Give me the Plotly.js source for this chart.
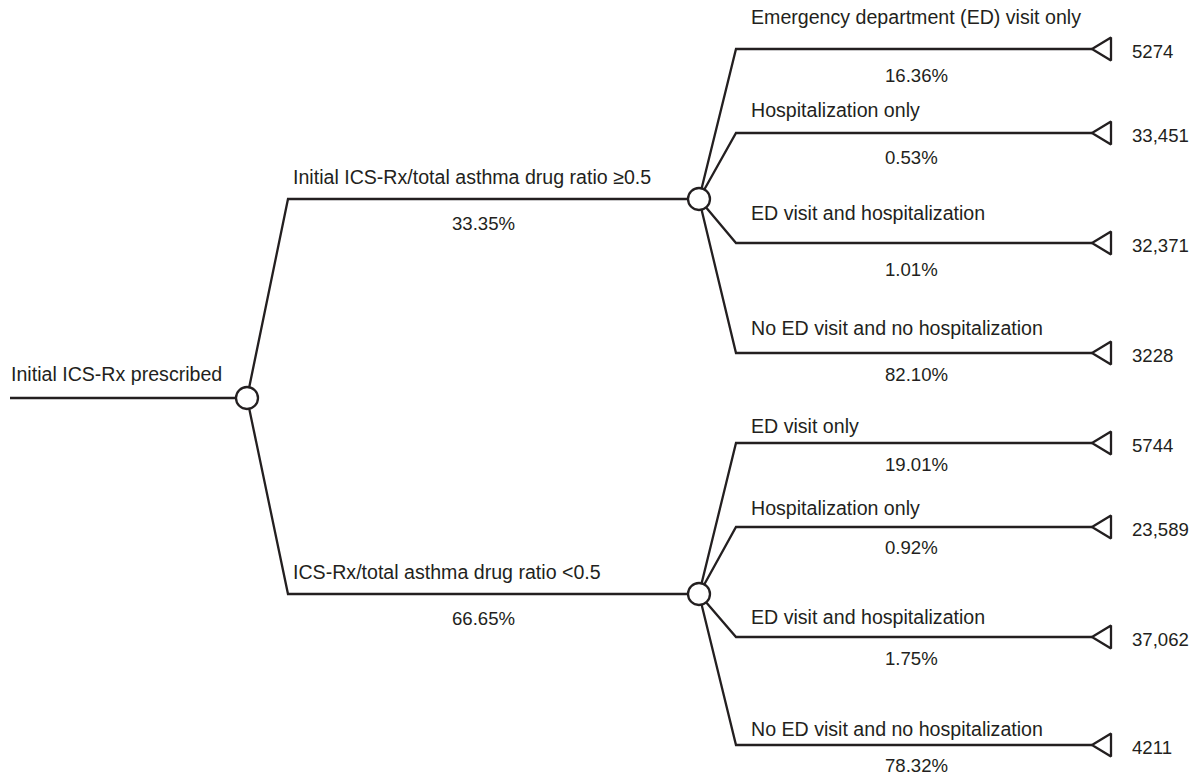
<!DOCTYPE html>
<html>
<head>
<meta charset="utf-8">
<script src="https://cdn.plot.ly/plotly-3.0.1.min.js"></script>
<style>html,body{margin:0;padding:0;background:#fff;}#chart{width:1196px;height:775px;}</style>
</head>
<body>
<div id="chart"></div>
<script>
// ---------- DATA ----------
var rootLabel = "Initial ICS-Rx prescribed";
var branchLabels = ["Initial ICS-Rx/total asthma drug ratio \u22650.5", "ICS-Rx/total asthma drug ratio <0.5"];
var branchPcts = ["33.35%", "66.65%"];
var outcomeLabelsHigh = ["Emergency department (ED) visit only", "Hospitalization only", "ED visit and hospitalization", "No ED visit and no hospitalization"];
var outcomeLabelsLow = ["ED visit only", "Hospitalization only", "ED visit and hospitalization", "No ED visit and no hospitalization"];
var outcomePctsHigh = ["16.36%", "0.53%", "1.01%", "82.10%"];
var outcomePctsLow = ["19.01%", "0.92%", "1.75%", "78.32%"];
var outcomeCountsHigh = ["5274", "33,451", "32,371", "3228"];
var outcomeCountsLow = ["5744", "23,589", "37,062", "4211"];

// ---------- GEOMETRY (layout only) ----------
var G = {
  rootX0: 10, rootY: 398, rootNodeX: 247,
  branchX: 288, chanceX: 699, branchY: [199, 594],
  leafX0: 736, leafTipX: 1092, triW: 19, triH: 11.5,
  leafOffsets: [[-150, -66, 44, 154], [-151, -67, 43, 151]],
  labelOff: [[-32, -23, -30, -25], [-17, -19, -20, -16]],
  pctOff: [[26, 24, 26, 21], [21, 20, 21, 20]],
  nodeR: 22,
  branchLabelOff: -22, branchPctOff: 24,
  leafLabelX: 749, leafPctX: 883, branchLabelX: 291, branchPctX: 450, countX: 1130
};
var INK = "#231f20";
var FAMILY = "Liberation Sans, Arial, sans-serif";
var LABEL_FONT = {family: FAMILY, size: 19.6, color: INK};
var NUM_FONT = {family: FAMILY, size: 18.6, color: INK};

var branches = [
  {label: branchLabels[0], pct: branchPcts[0], labels: outcomeLabelsHigh, pcts: outcomePctsHigh, counts: outcomeCountsHigh},
  {label: branchLabels[1], pct: branchPcts[1], labels: outcomeLabelsLow, pcts: outcomePctsLow, counts: outcomeCountsLow}
];

var traces = [];
var annotations = [];
var lineStyle = {color: INK, width: 2.3};
function seg(xs, ys) {
  traces.push({type: "scatter", mode: "lines", x: xs, y: ys, line: lineStyle, hoverinfo: "skip", showlegend: false});
}
function txt(x, y, t, font) {
  annotations.push({x: x, y: y, xref: "x", yref: "y", text: t, showarrow: false,
    xanchor: "left", yanchor: "middle", font: font});
}

// root
seg([G.rootX0, G.rootNodeX], [G.rootY, G.rootY]);
txt(G.rootX0 - 1, G.rootY - 24, rootLabel, LABEL_FONT);

var chanceNodesX = [G.rootNodeX], chanceNodesY = [G.rootY];
branches.forEach(function (b, i) {
  var by = G.branchY[i];
  seg([G.rootNodeX, G.branchX, G.chanceX], [G.rootY, by, by]);
  txt(G.branchLabelX, by + G.branchLabelOff, b.label, LABEL_FONT);
  txt(G.branchPctX, by + G.branchPctOff, b.pct, NUM_FONT);
  chanceNodesX.push(G.chanceX); chanceNodesY.push(by);
  b.labels.forEach(function (lab, j) {
    var ly = by + G.leafOffsets[i][j];
    seg([G.chanceX, G.leafX0, G.leafTipX], [by, ly, ly]);
    // terminal triangle
    traces.push({type: "scatter", mode: "lines", fill: "toself", fillcolor: "#fff",
      x: [G.leafTipX, G.leafTipX + G.triW, G.leafTipX + G.triW, G.leafTipX],
      y: [ly, ly - G.triH, ly + G.triH, ly],
      line: {color: INK, width: 2.3}, hoverinfo: "skip", showlegend: false});
    txt(G.leafLabelX, ly + G.labelOff[i][j], lab, LABEL_FONT);
    txt(G.leafPctX, ly + G.pctOff[i][j], b.pcts[j], NUM_FONT);
    txt(G.countX, ly + 2, b.counts[j], NUM_FONT);
  });
});

// chance nodes (circles)
traces.push({type: "scatter", mode: "markers", x: chanceNodesX, y: chanceNodesY,
  marker: {symbol: "circle", size: G.nodeR, color: "#fff", line: {color: INK, width: 2.3}},
  hoverinfo: "skip", showlegend: false});

var layout = {
  width: 1196, height: 775,
  margin: {l: 0, r: 0, t: 0, b: 0},
  paper_bgcolor: "#fff", plot_bgcolor: "#fff",
  xaxis: {range: [0, 1196], visible: false, fixedrange: true},
  yaxis: {range: [775, 0], visible: false, fixedrange: true},
  annotations: annotations,
  showlegend: false
};
Plotly.newPlot("chart", traces, layout, {displayModeBar: false, staticPlot: true});
</script>
</body>
</html>
